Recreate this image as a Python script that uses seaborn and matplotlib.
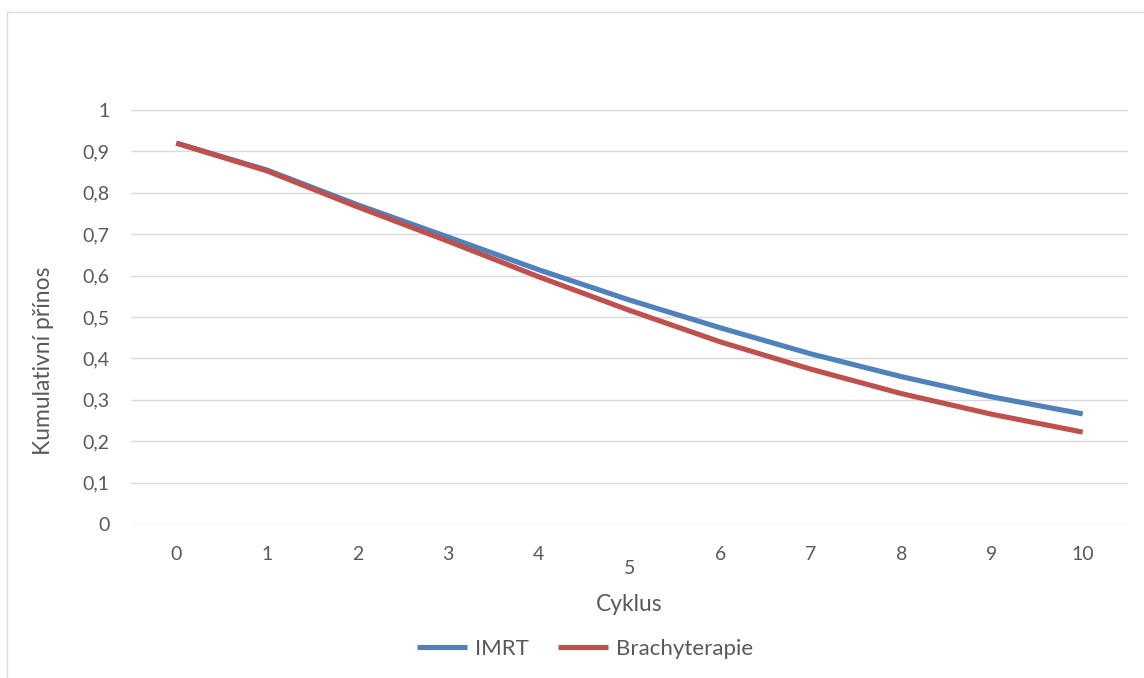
import matplotlib
matplotlib.use("Agg")
import matplotlib.pyplot as plt
from matplotlib.lines import Line2D
import seaborn as sns
import pandas as pd

# ---- data ----
cycles = [0, 1, 2, 3, 4, 5, 6, 7, 8, 9, 10]
imrt = [0.920, 0.855, 0.771, 0.693, 0.614, 0.541, 0.474, 0.411, 0.356, 0.307, 0.266]
brachy = [0.920, 0.853, 0.766, 0.683, 0.597, 0.516, 0.440, 0.374, 0.315, 0.265, 0.222]
series_names = ["IMRT", "Brachyterapie"]
y_ticks = [0, 0.1, 0.2, 0.3, 0.4, 0.5, 0.6, 0.7, 0.8, 0.9, 1.0]
y_ticklabels = ["0", "0,1", "0,2", "0,3", "0,4", "0,5", "0,6", "0,7", "0,8", "0,9", "1"]
x_label = "Cyklus"
y_label = "Kumulativní přínos"

df = pd.DataFrame({
    "Cyklus": cycles * 2,
    "value": imrt + brachy,
    "series": [series_names[0]] * len(cycles) + [series_names[1]] * len(cycles),
})

sns.set_theme(style="white")
plt.rcParams["font.family"] = ["Lato", "DejaVu Sans"]
text_color = "#595959"
grid_color = "#D9D9D9"
palette = {"IMRT": "#4F81BD", "Brachyterapie": "#C0504D"}

W, H = 1144, 678
fig = plt.figure(figsize=(W / 100, H / 100), dpi=100)
fig.patch.set_facecolor("white")
ax = fig.add_axes([131 / W, 1 - 524 / H, (1128 - 131) / W, (524 - 110) / H])

sns.lineplot(data=df, x="Cyklus", y="value", hue="series", palette=palette,
             linewidth=3.7, ax=ax, legend=False, sort=False)
for ln in ax.lines:
    ln.set_solid_capstyle("butt")

ax.set_xlim(-0.5, 10.5)
ax.set_ylim(0, 1)
ax.set_yticks(y_ticks)
ax.set_yticklabels(y_ticklabels)
ax.set_xticks(cycles)
ax.set_xticklabels([str(c) for c in cycles])
ax.yaxis.grid(True, color=grid_color, linewidth=1.0)
ax.xaxis.grid(False)
ax.set_axisbelow(True)
for s in ax.spines.values():
    s.set_visible(False)
ax.tick_params(axis="both", length=0, labelsize=14, labelcolor=text_color)
ax.tick_params(axis="y", pad=15.5)
ax.tick_params(axis="x", pad=16)
# Excel staggered the "5" label lower
ax.xaxis.get_major_ticks()[5].set_pad(26)

ax.set_xlabel(x_label, fontsize=16.5, color=text_color)
ax.xaxis.label.set_va("top")
ax.xaxis.set_label_coords(0.5, (524 - 594) / 414)
ax.set_ylabel(y_label, fontsize=16.5, color=text_color)
ax.yaxis.label.set_va("center")
ax.yaxis.set_label_coords((44 - 131) / 997, (524 - 361) / 414)

handles = [Line2D([0], [0], color=palette[n], linewidth=3.7, solid_capstyle="butt") for n in series_names]
leg = ax.legend(handles, series_names, loc="center", ncol=2, frameon=False,
                bbox_to_anchor=((585 - 131) / 997, (524 - 649) / 414),
                fontsize=16, handlelength=2.25, handletextpad=0.35, columnspacing=1.3)
for t in leg.get_texts():
    t.set_color(text_color)

# outer chart border (top and left visible)
fig.add_artist(Line2D([7 / W, 1], [1 - 12 / H, 1 - 12 / H], transform=fig.transFigure,
                      color=grid_color, linewidth=1.0))
fig.add_artist(Line2D([7 / W, 7 / W], [0, 1 - 12 / H], transform=fig.transFigure,
                      color=grid_color, linewidth=1.0))

fig.savefig("out.png", dpi=100, facecolor="white")
